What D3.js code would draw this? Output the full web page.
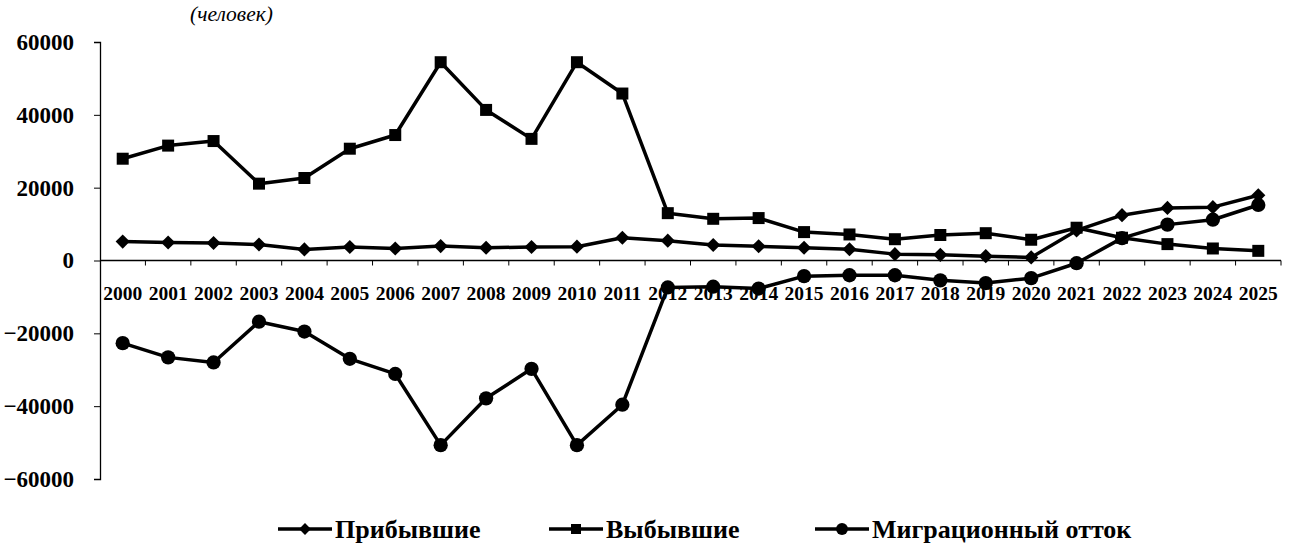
<!DOCTYPE html>
<html>
<head>
<meta charset="utf-8">
<script src="https://cdn.jsdelivr.net/npm/d3@7"></script>
<style>
  body { margin: 0; background: #fff; }
</style>
</head>
<body>
<svg id="chart" width="1298" height="544"></svg>
<script>
var years = ['2000','2001','2002','2003','2004','2005','2006','2007','2008','2009','2010','2011','2012',
             '2013','2014','2015','2016','2017','2018','2019','2020','2021','2022','2023','2024','2025'];

// Прибывшие
var arrived = [5200, 4950, 4800, 4400, 3050, 3700, 3300, 3950, 3500, 3700, 3800, 6250, 5450,
               4250, 3900, 3500, 3100, 1750, 1550, 1200, 850, 8250, 12450, 14450, 14650, 17900];
// Выбывшие
var departed = [27950, 31550, 32800, 21100, 22650, 30700, 34450, 54450, 41350, 33400, 54450, 45850, 13000,
                11450, 11650, 7800, 7150, 5850, 7000, 7500, 5700, 9000, 6250, 4500, 3300, 2650];
// Миграционный отток
var outflow = [-22700, -26600, -28000, -16800, -19500, -27000, -31150, -50700, -37850, -29750, -50700, -39600, -7400,
               -7200, -7700, -4300, -4050, -4050, -5450, -6200, -4850, -750, 6150, 9850, 11200, 15250];

var yTicks = [-60000, -40000, -20000, 0, 20000, 40000, 60000];
var seriesNames = ['Прибывшие', 'Выбывшие', 'Миграционный отток'];

var serif = '"Liberation Serif", "Times New Roman", serif';

var svg = d3.select('#chart');

var x = d3.scaleBand().domain(years).range([100, 1281]).padding(0),
    y = d3.scaleLinear().domain([-60000, 60000]).range([479, 42]);

var symbols = [
  {type: d3.symbolSquare, size: 100, rotate: 45},
  {type: d3.symbolSquare, size: 144, rotate: 0},
  {type: d3.symbolCircle, size: 160, rotate: 0}
];

var series = [arrived, departed, outflow].map(function(vals, i) {
  return {name: seriesNames[i], values: vals, symbol: symbols[i]};
});

// y axis
var yAxis = d3.axisLeft(y).tickValues(yTicks).tickSize(6).tickPadding(20)
  .tickFormat(d3.format('d'));
var gy = svg.append('g')
  .attr('transform', 'translate(100,0)')
  .call(yAxis);
gy.attr('font-family', null).attr('font-size', null);
gy.select('.domain').attr('stroke', '#000').attr('stroke-width', 1.3);
gy.selectAll('.tick line').attr('stroke', '#000');
gy.selectAll('.tick text')
  .attr('fill', '#000')
  .style('font-family', serif)
  .style('font-size', '23px')
  .style('font-weight', 'bold');

// x axis (labels at centre of each year, ticks at the band edges)
var xAxis = d3.axisBottom(x).tickSize(0).tickPadding(0);
var gx = svg.append('g')
  .attr('transform', 'translate(0,' + y(0) + ')')
  .call(xAxis);
gx.attr('font-family', null).attr('font-size', null);
gx.select('.domain').remove();
gx.selectAll('.tick text')
  .attr('fill', '#000')
  .attr('y', 39)
  .attr('dy', 0)
  .style('font-family', serif)
  .style('font-size', '19.5px')
  .style('font-weight', 'bold');

gx.append('line')
  .attr('x1', 100).attr('x2', x.range()[1])
  .attr('stroke', '#000').attr('stroke-width', 1.3);

gx.selectAll('.edge')
  .data(years)
  .enter().append('line')
  .attr('class', 'edge')
  .attr('x1', function(d) { return x(d) + x.bandwidth(); })
  .attr('x2', function(d) { return x(d) + x.bandwidth(); })
  .attr('y1', 0).attr('y2', 5)
  .attr('stroke', '#000').attr('stroke-width', 1);

// unit caption
svg.append('text')
  .attr('x', 190).attr('y', 21)
  .style('font-family', serif)
  .style('font-size', '21.5px')
  .style('font-style', 'italic')
  .text('(человек)');

var line = d3.line()
  .x(function(d, i) { return x(years[i]) + x.bandwidth() / 2; })
  .y(function(d) { return y(d); });

var g = svg.selectAll('.series')
  .data(series)
  .enter().append('g')
  .attr('class', 'series');

g.append('path')
  .attr('d', function(s) { return line(s.values); })
  .attr('fill', 'none')
  .attr('stroke', '#000')
  .attr('stroke-width', 3.5)
  .attr('stroke-linejoin', 'round');

g.each(function(s) {
  d3.select(this).selectAll('.pt')
    .data(s.values)
    .enter().append('path')
    .attr('class', 'pt')
    .attr('d', d3.symbol().type(s.symbol.type).size(s.symbol.size))
    .attr('transform', function(d, i) {
      return 'translate(' + (x(years[i]) + x.bandwidth() / 2) + ',' + y(d) + ') rotate(' + s.symbol.rotate + ')';
    })
    .attr('fill', '#000');
});

// legend
var legendX = [278, 549, 815];
var legend = svg.selectAll('.legend')
  .data(series)
  .enter().append('g')
  .attr('class', 'legend')
  .attr('transform', function(d, i) { return 'translate(' + legendX[i] + ',529)'; });

legend.append('line')
  .attr('x1', 0).attr('x2', 54)
  .attr('stroke', '#000').attr('stroke-width', 3.5);

legend.append('path')
  .attr('d', function(s) { return d3.symbol().type(s.symbol.type).size(s.symbol.size * 0.7)(); })
  .attr('transform', function(s) { return 'translate(27,0) rotate(' + s.symbol.rotate + ')'; })
  .attr('fill', '#000');

legend.append('text')
  .attr('x', 57).attr('y', 9)
  .style('font-family', serif)
  .style('font-size', '26px')
  .style('font-weight', 'bold')
  .text(function(s) { return s.name; });
</script>
</body>
</html>
